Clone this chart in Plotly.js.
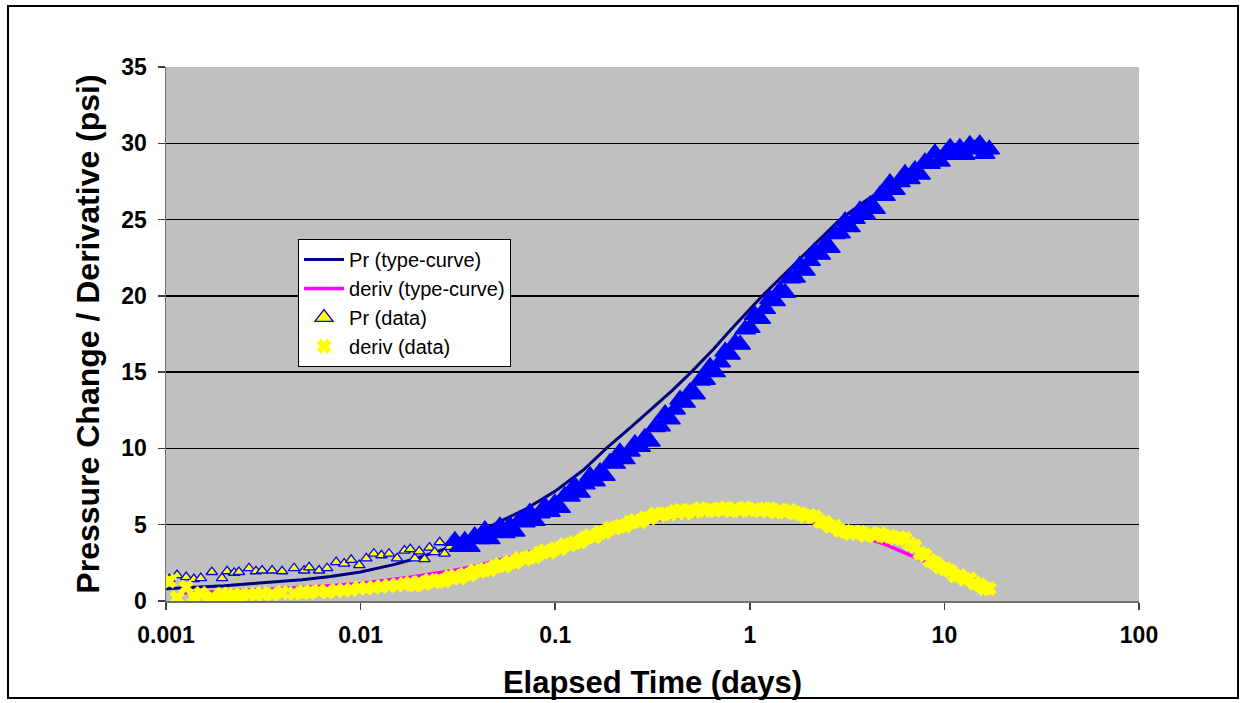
<!DOCTYPE html>
<html>
<head>
<meta charset="utf-8">
<script src="https://cdn.plot.ly/plotly-3.0.1.min.js"></script>
<style>
html,body{margin:0;padding:0;background:#fff;}
#wrap{position:relative;width:1245px;height:703px;}
#chart{width:1245px;height:703px;}
#frame{position:absolute;left:7px;top:5px;width:1228px;height:690px;border:2px solid #000;pointer-events:none;}
</style>
</head>
<body>
<div id="wrap"><div id="chart"></div><div id="frame"></div></div>
<script>
// ---------- data ----------
// type-curve (model) pressure change
const curveTime = [0.001,0.0015,0.002,0.003,0.005,0.007,0.01,0.015,0.02,0.03,0.05,0.07,0.1,0.14,0.183,0.25,0.3,0.4,0.5,0.65,0.8,1.0,1.16,1.5,1.8,2.3,2.9,4.0,5.2,7.0,10,13,16];
const prCurve   = [0.8,0.9,1.0,1.18,1.4,1.6,1.9,2.4,2.85,3.6,5.1,6.0,7.2,8.6,10.0,11.5,12.4,13.8,15.0,16.5,17.8,19.1,20.0,21.4,22.4,23.7,25.0,26.3,27.2,28.2,29.0,29.4,29.6];

// type-curve (model) derivative
const derivCurveTime = [0.0012,0.002,0.003,0.005,0.007,0.01,0.018,0.03,0.041,0.052,0.07,0.1,0.14,0.195,0.26,0.343,0.45,0.64,0.85,1.03,1.4,1.74,2.16,2.6,3.0,3.6,4.3,5.0,5.9,7.0,8.6,10.5,12.5,15,17];
const derivCurve     = [0.5,0.62,0.72,0.88,1.0,1.15,1.55,2.0,2.35,2.7,3.1,3.65,4.2,4.8,5.1,5.35,5.55,5.75,5.8,5.82,5.72,5.5,5.1,4.85,4.6,4.3,4.0,3.7,3.3,2.9,2.4,2.0,1.7,1.35,1.05];

// measured data: elapsed time (days)
const timeDays = [
  0.00104,0.00114,0.00127,0.00139,0.00151,0.00172,0.00194,0.00206,0.00224,0.00237,
  0.00267,0.0029,0.00312,0.00351,0.00395,0.00455,0.00513,0.00544,0.00612,0.00673,
  0.00749,0.00823,0.00895,0.00984,0.0107,0.0117,0.0128,0.014,0.0154,0.0168,
  0.018,0.019,0.020,0.0213,0.0226,0.024,0.0255,0.027,0.0287,0.0305,
  0.0323,0.0343,0.0364,0.0386,0.041,0.0435,0.0461,0.049,0.052,0.0551,
  0.0585,0.062,0.0658,0.0698,0.0741,0.0786,0.0834,0.0885,0.0939,0.0996,
  0.106,0.112,0.119,0.126,0.134,0.142,0.151,0.160,0.170,0.180,
  0.191,0.203,0.215,0.228,0.242,0.257,0.273,0.289,0.307,0.326,
  0.346,0.367,0.389,0.413,0.438,0.465,0.493,0.523,0.555,0.589,
  0.625,0.663,0.704,0.747,0.792,0.841,0.892,0.946,1.00,1.06,
  1.13,1.20,1.27,1.35,1.43,1.52,1.61,1.71,1.81,1.92,
  2.04,2.16,2.30,2.44,2.58,2.74,2.91,3.09,3.27,3.47,
  3.68,3.91,4.15,4.40,4.67,4.95,5.25,5.57,5.91,6.27,
  6.65,7.06,7.49,7.94,8.43,8.94,9.49,10.1,10.7,11.3,
  12.0,12.7,13.5,14.3,15.2,16.1,17.0
];

// measured pressure change (psi)
const prData = [
  1.44,1.7,1.57,1.44,1.5,1.9,1.5,1.95,1.85,1.9,
  2.15,1.95,2.0,2.0,1.95,2.15,2.0,2.2,2.0,2.15,
  2.55,2.45,2.7,2.35,2.8,3.1,3.0,3.1,2.8,3.3,
  3.4,2.8,3.25,2.75,3.5,3.2,3.85,3.1,3.55,3.95,
  3.55,3.95,3.55,4.25,4.05,4.65,4.05,4.5,4.9,4.45,
  4.95,4.55,5.3,5.15,5.8,5.25,5.75,6.2,5.85,6.4,
  6.1,6.9,6.85,7.55,7.1,7.65,8.2,7.85,8.45,8.2,
  9.05,9.0,9.75,9.3,9.8,10.3,10.1,10.7,10.45,11.4,
  11.45,12.25,11.9,12.55,13.2,13.0,13.7,13.55,14.45,14.5,
  15.35,15.0,15.65,16.35,16.15,16.9,16.8,17.8,17.9,18.75,
  18.5,19.15,19.8,19.65,20.35,20.2,21.15,21.2,22.0,21.65,
  22.3,22.9,22.7,23.35,23.15,24.05,24.1,24.9,24.5,25.05,
  25.6,25.35,25.95,25.7,26.6,26.55,27.4,26.95,27.45,28.0,
  27.65,28.25,27.95,28.75,28.65,29.35,28.8,29.3,29.7,29.25,
  29.7,29.25,29.9,29.6,29.95,29.3,29.6
];

// measured derivative (psi)
const derivData = [
  1.3,0.2,0.9,0.3,0.5,0.25,0.45,0.3,0.4,0.35,
  0.45,0.4,0.5,0.45,0.55,0.5,0.6,0.55,0.65,0.6,
  0.7,0.7,0.75,0.85,0.85,0.9,0.95,1.0,1.05,1.1,
  1.18,1.03,1.21,1.14,1.35,1.27,1.35,1.32,1.56,1.63,
  1.5,1.74,1.72,1.98,1.94,2.05,2.05,2.26,2.38,2.3,
  2.54,2.54,2.8,2.75,2.88,2.9,3.16,3.28,3.2,3.44,
  3.44,3.7,3.69,3.82,3.87,4.13,4.28,4.22,4.49,4.51,
  4.78,4.77,4.9,4.92,5.16,5.28,5.2,5.44,5.44,5.7,
  5.65,5.73,5.7,5.88,5.94,5.78,5.94,5.87,6.05,5.94,
  5.99,5.92,6.06,6.08,5.9,6.04,5.94,6.1,5.97,6.0,
  5.91,6.03,6.03,5.83,5.94,5.82,5.94,5.77,5.72,5.54,
  5.61,5.53,5.2,5.16,4.89,4.9,4.62,4.57,4.42,4.51,
  4.5,4.3,4.41,4.29,4.42,4.25,4.25,4.12,4.16,4.08,
  3.75,3.59,3.14,3.0,2.67,2.5,2.22,2.11,1.98,1.65,
  1.66,1.44,1.45,1.17,1.05,0.82,0.81
];

const xTickVals = [0.001,0.01,0.1,1,10,100];
const xTickText = ['0.001','0.01','0.1','1','10','100'];
const seriesNames = ['Pr (type-curve)','deriv (type-curve)','Pr (data)','deriv (data)'];

// ---------- chart ----------
const FONT = 'Arial, "Liberation Sans", sans-serif';
// dense late-time triangles overlap into a solid blue band in the reference
const prFill = timeDays.map(t => t < 0.03 ? '#FFFF00' : '#0000FF');
const prSize = timeDays.map(t => t < 0.03 ? 10 : 18);

const traces = [
  {x: curveTime, y: prCurve, name: seriesNames[0], type: 'scatter', mode: 'lines',
   line: {color: '#000080', width: 3}},
  {x: derivCurveTime, y: derivCurve, name: seriesNames[1], type: 'scatter', mode: 'lines',
   line: {color: '#FF00FF', width: 3.5}},
  {x: timeDays, y: prData, name: seriesNames[2], type: 'scatter', mode: 'markers',
   marker: {symbol: 'triangle-up', size: prSize, color: prFill, opacity: 1,
            line: {color: '#0000FF', width: 1.3}}},
  {x: timeDays, y: derivData, name: seriesNames[3], type: 'scatter', mode: 'markers',
   marker: {symbol: 'x', size: 12, color: '#FFFF00', opacity: 1, line: {color: '#FFFF00', width: 1.2}}}
];

const layout = {
  width: 1245, height: 703,
  margin: {l: 166, r: 106, t: 67, b: 102, pad: 0},
  paper_bgcolor: '#FFFFFF',
  plot_bgcolor: '#C0C0C0',
  font: {family: FONT, color: '#000'},
  showlegend: true,
  legend: {
    x: 0.1357, y: 0.678, xanchor: 'left', yanchor: 'top',
    bgcolor: '#FFFFFF', bordercolor: '#000000', borderwidth: 1,
    font: {family: FONT, size: 20, color: '#000'},
    itemwidth: 40, tracegroupgap: 0
  },
  xaxis: {
    type: 'log', range: [-3, 2],
    tickvals: xTickVals, ticktext: xTickText,
    ticks: 'outside', ticklen: 7, tickwidth: 1.5, tickcolor: '#404040',
    showgrid: false, zeroline: false,
    showline: true, linecolor: '#707070', linewidth: 1.5,
    tickfont: {family: FONT, size: 23, weight: 'bold', color: '#000'},
    ticklabelstandoff: 6,
    title: {text: 'Elapsed Time (days)', font: {family: FONT, size: 31, weight: 'bold', color: '#000'}, standoff: 24}
  },
  yaxis: {
    range: [0, 35], dtick: 5, tick0: 0,
    ticks: 'outside', ticklen: 7, tickwidth: 1.5, tickcolor: '#404040',
    showgrid: true, gridcolor: '#000000', gridwidth: 1.5,
    zeroline: false,
    showline: true, linecolor: '#707070', linewidth: 1.5,
    tickfont: {family: FONT, size: 23, weight: 'bold', color: '#000'},
    ticklabelstandoff: 6,
    title: {text: 'Pressure Change / Derivative (psi)', font: {family: FONT, size: 32, weight: 'bold', color: '#000'}, standoff: 12}
  }
};

Plotly.newPlot('chart', traces, layout, {displayModeBar: false, staticPlot: true});
</script>
</body>
</html>
